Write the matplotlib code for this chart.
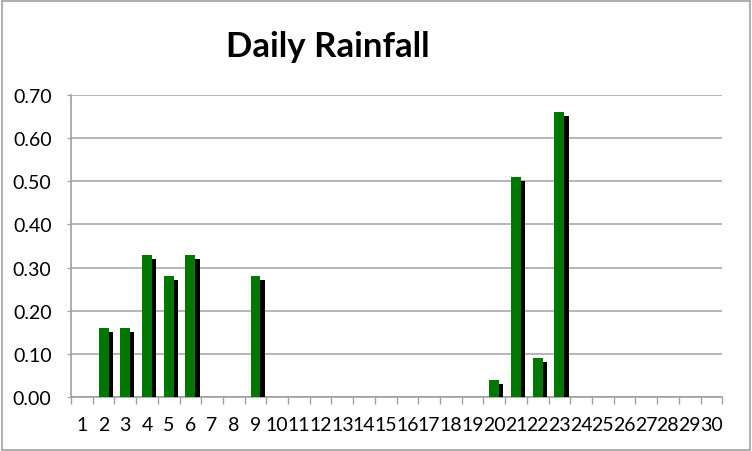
import matplotlib.pyplot as plt
import matplotlib.patheffects as pe
from matplotlib.patches import Rectangle
import numpy as np

days = list(range(1, 31))
rainfall = [0, 0.16, 0.16, 0.33, 0.28, 0.33, 0, 0, 0.28, 0,
            0, 0, 0, 0, 0, 0, 0, 0, 0, 0.04,
            0.51, 0.09, 0.66, 0, 0, 0, 0, 0, 0, 0]
y_ticks = [0.0, 0.1, 0.2, 0.3, 0.4, 0.5, 0.6, 0.7]

plt.rcParams['font.family'] = ['Lato', 'DejaVu Sans']

fig = plt.figure(figsize=(7.52, 4.52), dpi=100)
ax = fig.add_axes([0.0944, 0.1195, 0.866, 0.668])

x = np.arange(len(days))
shadow = pe.SimplePatchShadow(offset=(3, -3), shadow_rgbFace='black', alpha=1.0)
ax.bar(x, rainfall, width=0.46, color='#007800', edgecolor='none',
       path_effects=[shadow, pe.Normal()], zorder=3)

ax.set_xlim(-0.5, len(days) - 0.5)
ax.set_ylim(0, 0.7)
ax.set_yticks(y_ticks)
ax.set_yticklabels([f'{v:.2f}' for v in y_ticks], fontsize=14)
ax.yaxis.grid(True, color='#b0b0b0', linewidth=1.3, zorder=0)

ax.set_xticks(x)
ax.set_xticklabels([str(d) for d in days], fontsize=14)
ax.set_xticks(np.arange(-0.5, len(days), 1), minor=True)
ax.tick_params(axis='x', which='major', length=0, pad=14)
ax.tick_params(axis='x', which='minor', length=5, color='#a0a0a0', width=1)
ax.tick_params(axis='y', length=3, color='#a0a0a0', pad=11)

for side in ['top', 'right']:
    ax.spines[side].set_visible(False)
for side in ['left', 'bottom']:
    ax.spines[side].set_color('#a0a0a0')
    ax.spines[side].set_linewidth(1.2)

fig.text(0.436, 0.896, 'Daily Rainfall', ha='center', va='center',
         fontsize=25, fontweight='bold')

fig.patches.append(Rectangle((0.002, 0.003), 0.995, 0.993, transform=fig.transFigure,
                             fill=False, edgecolor='#a0a0a0', linewidth=1.2))

fig.savefig('out.png', dpi=100)
